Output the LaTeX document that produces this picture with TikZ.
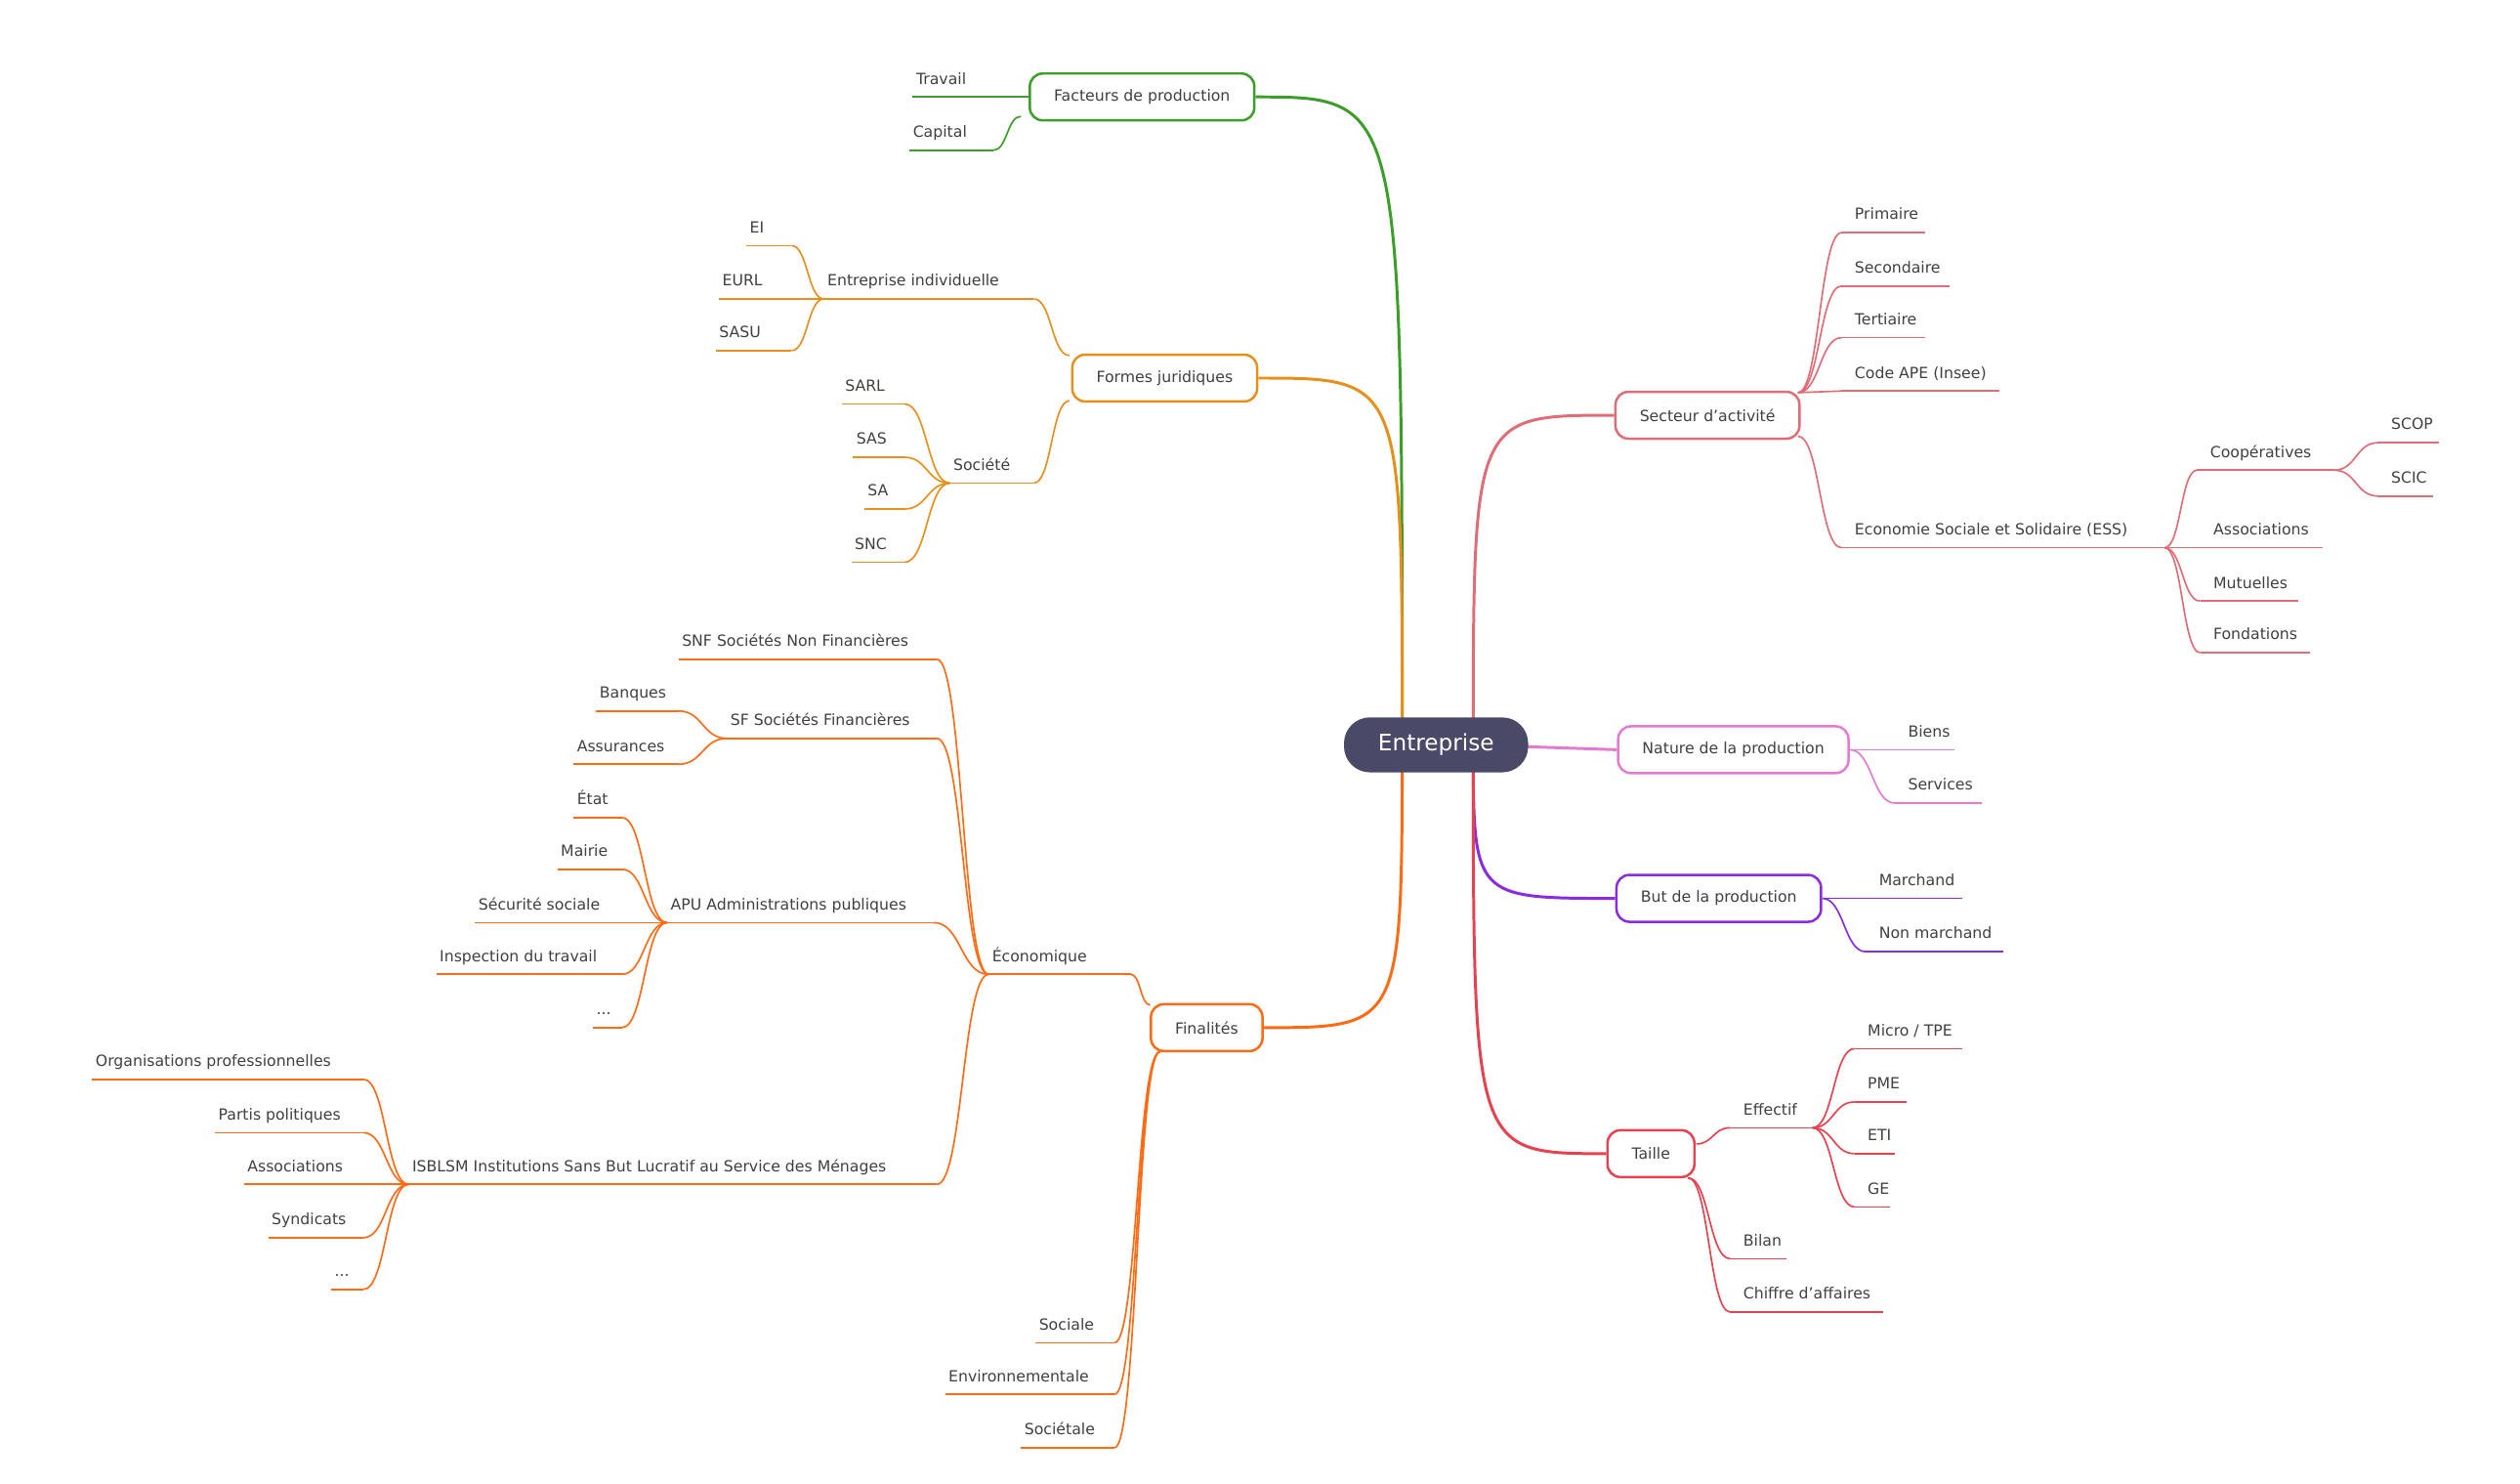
\documentclass[tikz,border=0pt]{standalone}
\usepackage{fontspec}
\setmainfont{DejaVu Sans}
\usetikzlibrary{calc}
\definecolor{cfac}{HTML}{3A9E28}
\definecolor{cfor}{HTML}{E6901A}
\definecolor{cfin}{HTML}{FF6A13}
\definecolor{csec}{HTML}{E06C75}
\definecolor{cnat}{HTML}{E67AD0}
\definecolor{cbut}{HTML}{8A2BE2}
\definecolor{ctai}{HTML}{E8404F}
\definecolor{ccen}{HTML}{4A4A68}
\definecolor{ctxt}{HTML}{404040}
\tikzset{
  leaf/.style={inner sep=0pt, text=ctxt, font=\fontsize{9.5}{11}\selectfont},
  twig/.style={line width=1pt},
  branch/.style={line width=1.8pt},
  topic/.style={draw, line width=1.5pt, fill=white, rounded corners=8pt, text=ctxt,
    minimum height=29pt, inner xsep=15pt, font=\fontsize{9.5}{11}\selectfont}
}
% name, hub, x1, x2, y, text
\newcommand\leafR[6]{%
  \coordinate (#1-a) at (#3,#5); \coordinate (#1-b) at (#4,#5);
  \node[leaf, anchor=base west] (#1) at (#3+8,#5-8) {#6};
  \draw[twig] (#1-a) -- (#1-b);
  \draw[twig] let \p1=(#2), \p2=(#1-a) in
    (\p1) .. controls ({0.5*\x1+0.5*\x2},\y1) and ({0.5*\x1+0.5*\x2},\y2) .. (\p2);}
\newcommand\leafL[6]{%
  \coordinate (#1-a) at (#3,#5); \coordinate (#1-b) at (#4,#5);
  \node[leaf, anchor=base west] (#1) at (#3+2,#5-8) {#6};
  \draw[twig] (#1-a) -- (#1-b);
  \draw[twig] let \p1=(#2), \p2=(#1-b) in
    (\p1) .. controls ({0.5*\x1+0.5*\x2},\y1) and ({0.5*\x1+0.5*\x2},\y2) .. (\p2);}

\begin{document}
\begin{tikzpicture}[x=1pt,y=-1pt]
\useasboundingbox (0,0) rectangle (1560,918);

% topics
\node[topic, draw=cfac] (fac) at (707,60) {Facteurs de production};
\node[topic, draw=cfor] (for) at (721,234) {Formes juridiques};
\node[topic, draw=cfin] (fin) at (747,636) {Finalités};
\node[topic, draw=csec] (sec) at (1057,257) {Secteur d'activité};
\node[topic, draw=cnat] (nat) at (1073,464) {Nature de la production};
\node[topic, draw=cbut] (but) at (1064,556) {But de la production};
\node[topic, draw=ctai] (tai) at (1022,714) {Taille};

\coordinate (cL) at (868,455);
\coordinate (cR) at (912,461);
\begin{scope}[on background layer/.style={}]
\draw[branch, cfac] let \p1=(cL), \p2=(fac.east) in (\p1) .. controls (\x1,\y2) .. (\p2);
\draw[branch, cfor] let \p1=(cL), \p2=(for.east) in (\p1) .. controls (\x1,\y2) .. (\p2);
\draw[branch, cfin] let \p1=(cL), \p2=(fin.east) in (\p1) .. controls (\x1,\y2) .. (\p2);
\draw[branch, csec] let \p1=(cR), \p2=(sec.west) in (\p1) .. controls (\x1,\y2) .. (\p2);
\draw[branch, cnat] (cR) -- (nat.west);
\draw[branch, cbut] let \p1=(cR), \p2=(but.west) in (\p1) .. controls (\x1,\y2) .. (\p2);
\draw[branch, ctai] let \p1=(cR), \p2=(tai.west) in (\p1) .. controls (\x1,\y2) .. (\p2);
\end{scope}
\node[fill=ccen, text=white, rounded corners=16pt, minimum width=114pt, minimum height=34pt,
  font=\fontsize{14}{16}\selectfont] (ent) at (889,461) {Entreprise};

% Facteurs de production
\begin{scope}[color=cfac]
\coordinate (fac-h) at (632,72);
\leafL{trav}{fac.west}{565}{627}{60}{Travail}
\leafL{capi}{fac-h}{563}{615}{93}{Capital}
\end{scope}

% Formes juridiques
\begin{scope}[color=cfor]
\coordinate (for-h1) at (662,220);
\coordinate (for-h2) at (662,248);
\leafL{ind}{for-h1}{510}{640}{185}{Entreprise individuelle}
\leafL{ei}{ind-a}{462}{490}{152}{EI}
\leafL{eurl}{ind-a}{445}{490}{185}{EURL}
\leafL{sasu}{ind-a}{443}{490}{217}{SASU}
\leafL{soc}{for-h2}{588}{640}{299}{Société}
\leafL{sarl}{soc-a}{521}{560}{250}{SARL}
\leafL{sas}{soc-a}{528}{560}{283}{SAS}
\leafL{sa}{soc-a}{535}{560}{315}{SA}
\leafL{snc}{soc-a}{527}{560}{348}{SNC}
\end{scope}

% Finalités
\begin{scope}[color=cfin]
\coordinate (fin-h1) at (712,622);
\coordinate (fin-h2) at (718,651);
\leafL{eco}{fin-h1}{612}{700}{603}{Économique}
\leafL{snf}{eco-a}{420}{580}{408}{SNF Sociétés Non Financières}
\leafL{sf}{eco-a}{450}{580}{457}{SF Sociétés Financières}
\leafL{banq}{sf-a}{369}{420}{440}{Banques}
\leafL{assu}{sf-a}{355}{420}{473}{Assurances}
\leafL{apu}{eco-a}{413}{578}{571}{APU Administrations publiques}
\leafL{etat}{apu-a}{355}{385}{506}{État}
\leafL{mair}{apu-a}{345}{385}{538}{Mairie}
\leafL{secu}{apu-a}{294}{385}{571}{Sécurité sociale}
\leafL{insp}{apu-a}{270}{385}{603}{Inspection du travail}
\leafL{apux}{apu-a}{367}{385}{636}{...}
\leafL{isb}{eco-a}{253}{580}{733}{ISBLSM Institutions Sans But Lucratif au Service des Ménages}
\leafL{orga}{isb-a}{57}{225}{668}{Organisations professionnelles}
\leafL{part}{isb-a}{133}{225}{701}{Partis politiques}
\leafL{asso}{isb-a}{151}{225}{733}{Associations}
\leafL{synd}{isb-a}{166}{225}{766}{Syndicats}
\leafL{isbx}{isb-a}{205}{225}{798}{...}
\leafL{soci}{fin-h2}{641}{690}{831}{Sociale}
\leafL{envi}{fin-h2}{585}{690}{863}{Environnementale}
\leafL{sotl}{fin-h2}{632}{690}{896}{Sociétale}
\end{scope}

% Secteur d'activité
\begin{scope}[color=csec]
\coordinate (sec-h1) at (1113,243);
\coordinate (sec-h2) at (1113,270);
\leafR{prim}{sec-h1}{1140}{1192}{144}{Primaire}
\leafR{seco}{sec-h1}{1140}{1207}{177}{Secondaire}
\leafR{tert}{sec-h1}{1140}{1192}{209}{Tertiaire}
\leafR{ape}{sec-h1}{1140}{1238}{242}{Code APE (Insee)}
\leafR{ess}{sec-h2}{1140}{1340}{339}{Economie Sociale et Solidaire (ESS)}
\leafR{coop}{ess-b}{1360}{1445}{291}{Coopératives}
\leafR{scop}{coop-b}{1472}{1510}{274}{SCOP}
\leafR{scic}{coop-b}{1472}{1506}{307}{SCIC}
\leafR{asse}{ess-b}{1362}{1438}{339}{Associations}
\leafR{mutu}{ess-b}{1362}{1423}{372}{Mutuelles}
\leafR{fond}{ess-b}{1362}{1430}{404}{Fondations}
\end{scope}

% Nature de la production
\begin{scope}[color=cnat]
\leafR{bien}{nat.east}{1173}{1210}{464}{Biens}
\leafR{serv}{nat.east}{1173}{1227}{497}{Services}
\end{scope}

% But de la production
\begin{scope}[color=cbut]
\leafR{marc}{but.east}{1155}{1215}{556}{Marchand}
\leafR{nonm}{but.east}{1155}{1240}{589}{Non marchand}
\end{scope}

% Taille
\begin{scope}[color=ctai]
\coordinate (tai-h1) at (1050,708);
\coordinate (tai-h2) at (1045,729);
\leafR{effe}{tai-h1}{1071}{1122}{698}{Effectif}
\leafR{micr}{effe-b}{1148}{1215}{649}{Micro / TPE}
\leafR{pme}{effe-b}{1148}{1180}{682}{PME}
\leafR{eti}{effe-b}{1148}{1173}{714}{ETI}
\leafR{ge}{effe-b}{1148}{1170}{747}{GE}
\leafR{bila}{tai-h2}{1071}{1106}{779}{Bilan}
\leafR{chif}{tai-h2}{1071}{1166}{812}{Chiffre d'affaires}
\end{scope}
\end{tikzpicture}
\end{document}
